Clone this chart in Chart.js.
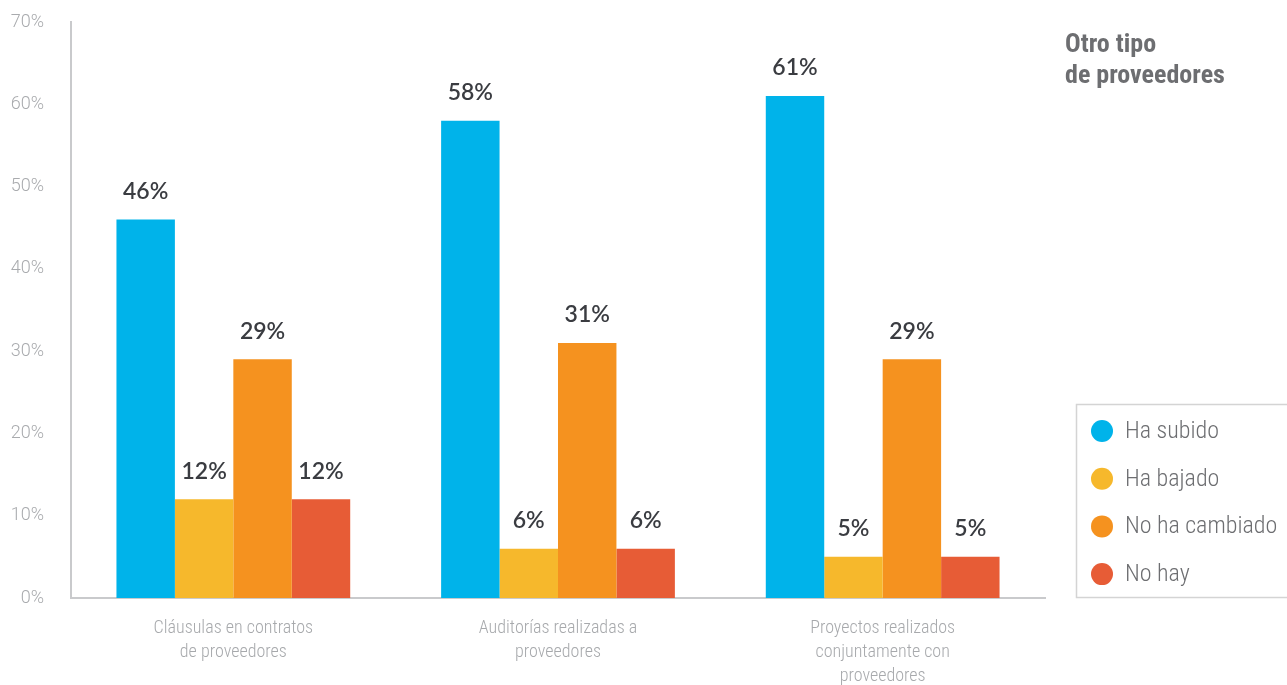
<!DOCTYPE html>
<html>
<head>
<meta charset="utf-8">
<script src="https://cdn.jsdelivr.net/npm/chart.js@4"></script>
<style>
  html, body { margin: 0; padding: 0; background: #fff; }
  #wrap { width: 1287px; height: 685px; position: relative; }
</style>
</head>
<body>
<div id="wrap"><canvas id="myChart" width="1287" height="685"></canvas></div>
<script>
// datos del gráfico
var categorias = [
    ["Cláusulas en contratos", "de proveedores"],
    ["Auditorías realizadas a", "proveedores"],
    ["Proyectos realizados", "conjuntamente con", "proveedores"]
];
var series = ["Ha subido", "Ha bajado", "No ha cambiado", "No hay"];
var haSubido = [46, 58, 61];
var haBajado = [12, 6, 5];
var noHaCambiado = [29, 31, 29];
var noHay = [12, 6, 5];
var colores = ["#00b3ea", "#f6b82c", "#f5921f", "#e75c36"];
var titulo = ["Otro tipo", "de proveedores"];

var narrow = "'Liberation Sans Narrow', 'Roboto Condensed', 'Roboto', sans-serif";

// etiquetas encima de cada barra
var etiquetas = {
    id: 'etiquetas',
    afterDatasetsDraw: function (chart) {
        var ctx = chart.ctx;
        ctx.save();
        ctx.font = "600 23px Lato, 'Noto Sans', sans-serif";
        ctx.fillStyle = "#3a3c41";
        ctx.textAlign = "center";
        ctx.textBaseline = "middle";
        chart.data.datasets.forEach(function (ds, i) {
            chart.getDatasetMeta(i).data.forEach(function (bar, j) {
                ctx.fillText(ds.data[j] + '%', bar.x, bar.y - 28);
            });
        });
        ctx.restore();
    }
};

// título y leyenda a la derecha
var ladoDerecho = {
    id: 'ladoDerecho',
    afterDraw: function (chart) {
        var ctx = chart.ctx;
        ctx.save();
        ctx.fillStyle = "#6d6e71";
        ctx.font = "bold 26px " + narrow;
        ctx.textBaseline = "middle";
        ctx.fillText(titulo[0], 1065, 45);
        ctx.fillText(titulo[1], 1065, 76);

        ctx.strokeStyle = "#d4d4d4";
        ctx.lineWidth = 1.5;
        ctx.strokeRect(1076.5, 404.5, 220, 193);

        ctx.font = "300 24px " + narrow;
        chart.data.datasets.forEach(function (ds, i) {
            var y = 431 + i * 47.7;
            ctx.beginPath();
            ctx.arc(1102, y, 11, 0, Math.PI * 2);
            ctx.fillStyle = ds.backgroundColor;
            ctx.fill();
            ctx.fillStyle = "#6d6e71";
            ctx.fillText(ds.label, 1125, y + 1);
        });
        ctx.restore();
    }
};

var valores = [haSubido, haBajado, noHaCambiado, noHay];

var bieudo = new Chart("myChart", {
    type: "bar",
    data: {
        labels: categorias,
        datasets: series.map(function (s, i) {
            return {
                label: s,
                data: valores[i],
                backgroundColor: colores[i],
                categoryPercentage: 0.72,
                barPercentage: 1.0
            };
        })
    },
    options: {
        responsive: false,
        animation: false,
        layout: { padding: { top: 22, right: 242, left: 0, bottom: 0 } },
        plugins: {
            legend: { display: false },
            tooltip: { enabled: false }
        },
        scales: {
            x: {
                grid: { display: false, drawTicks: false },
                border: { display: true, color: "#c9cacc", width: 2 },
                ticks: {
                    color: "#a7a9ac",
                    font: { family: narrow, size: 18, weight: 300, lineHeight: 1.35 },
                    padding: 18,
                    maxRotation: 0,
                    autoSkip: false
                },
                afterFit: function (scale) { scale.height = 87; }
            },
            y: {
                min: 0,
                max: 70,
                grid: { display: false, drawTicks: false },
                border: { display: true, color: "#c9cacc", width: 2 },
                ticks: {
                    stepSize: 10,
                    color: "#a9abae",
                    font: { family: "'Roboto', sans-serif", size: 18, weight: 300 },
                    padding: 27,
                    callback: function (v) { return v + '%'; }
                },
                afterFit: function (scale) {
                    scale.width = 71;
                    // el padding de las etiquetas no debe empujar el área hacia abajo
                    scale.paddingTop = 10;
                    scale.paddingBottom = 10;
                }
            }
        }
    },
    plugins: [etiquetas, ladoDerecho]
});
</script>
</body>
</html>
